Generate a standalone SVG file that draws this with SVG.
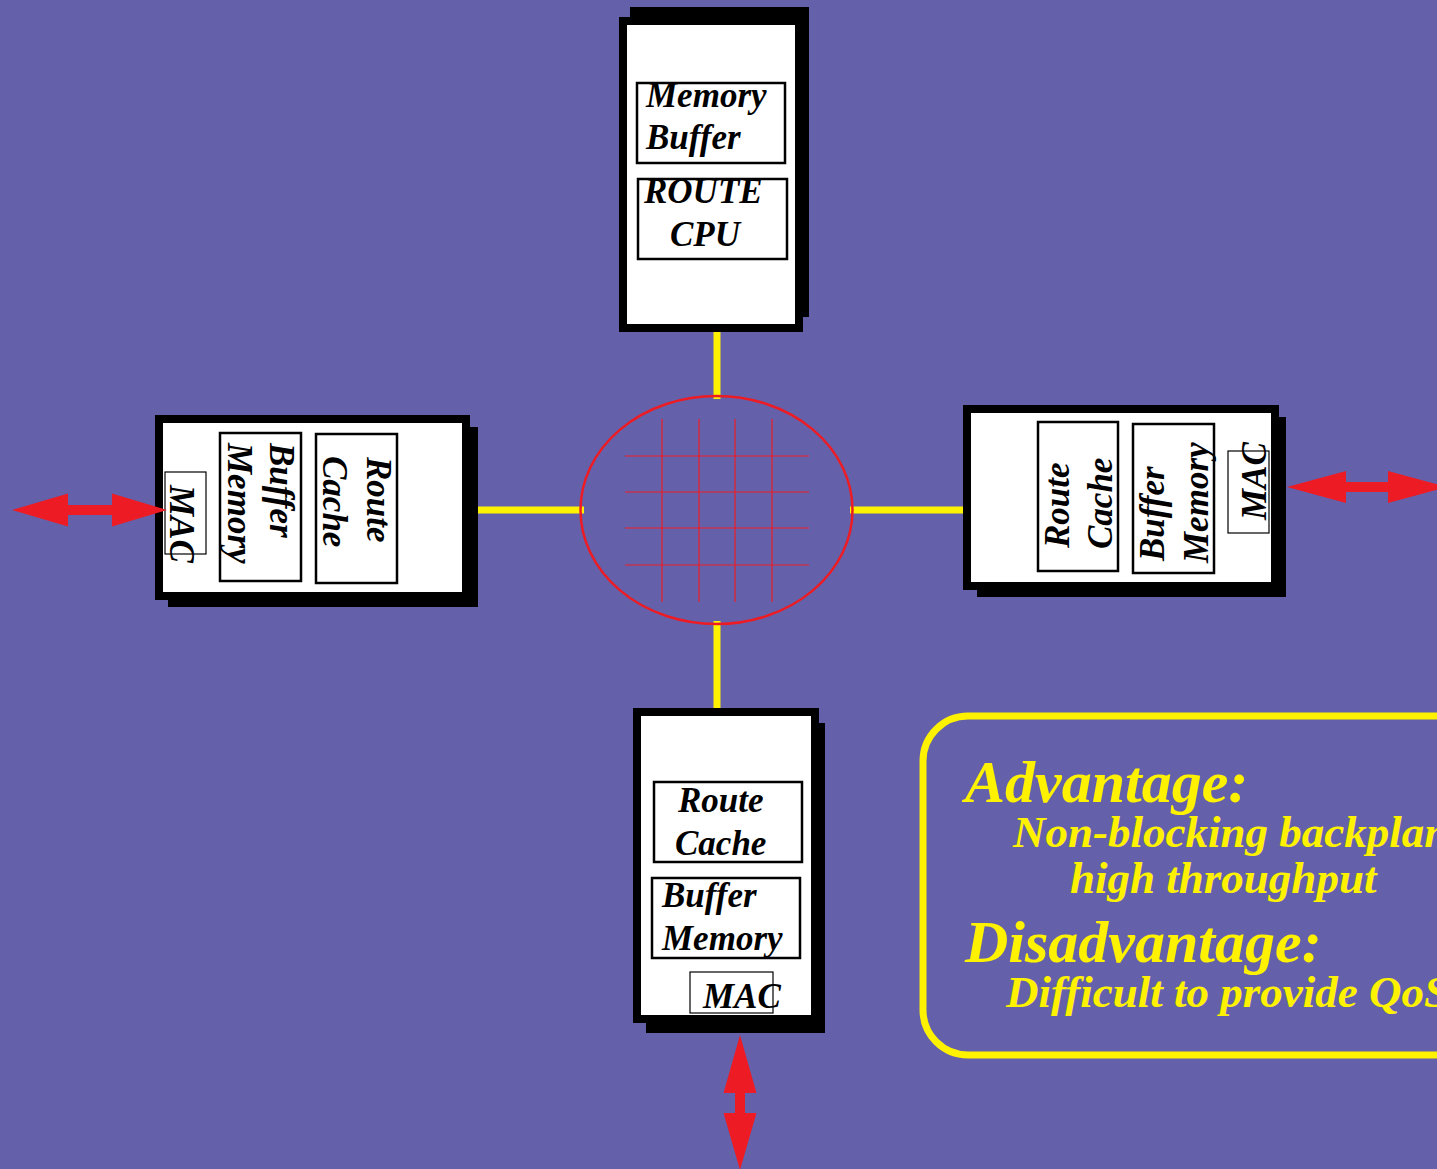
<svg xmlns="http://www.w3.org/2000/svg" width="1437" height="1169" viewBox="0 0 1437 1169">
  <style>
    .shadow { fill: #000; }
    .card { fill: #fff; stroke: #000; stroke-width: 8; }
    .box { fill: #fff; stroke: #000; stroke-width: 2.5; }
    .mac { fill: none; stroke: #000; stroke-width: 1.2; }
    .lbl { font-family: "Liberation Serif", "Times New Roman", serif; font-style: italic; font-weight: bold; font-size: 35px; fill: #000; }
    .link { stroke: #fff200; stroke-width: 7; fill: none; }
    .grid line { stroke: #ed1c24; stroke-width: 1.2; }
    .arrow { fill: #ed1c24; }
    .note { font-family: "Liberation Serif", "Times New Roman", serif; font-style: italic; font-weight: bold; fill: #fff200; }
    .head { font-size: 60px; }
    .body { font-size: 45px; }
  </style>

  <rect width="1437" height="1169" fill="#6461aa"/>

  <!-- links between the line cards and the crossbar -->
  <g id="connectors">
    <line class="link" x1="717" y1="330" x2="717" y2="399"/>
    <line class="link" x1="466" y1="510" x2="584" y2="510"/>
    <line class="link" x1="850" y1="510" x2="968" y2="510"/>
    <line class="link" x1="717" y1="621" x2="717" y2="716"/>
  </g>

  <!-- crossbar switch fabric -->
  <g id="crossbar">
    <ellipse cx="716.5" cy="510" rx="136" ry="114" fill="none" stroke="#ed1c24" stroke-width="2.5"/>
    <g class="grid">
      <line x1="662" y1="419" x2="662" y2="602"/>
      <line x1="699" y1="419" x2="699" y2="602"/>
      <line x1="735" y1="419" x2="735" y2="602"/>
      <line x1="772" y1="419" x2="772" y2="602"/>
      <line x1="625" y1="456" x2="809" y2="456"/>
      <line x1="625" y1="492" x2="809" y2="492"/>
      <line x1="625" y1="528" x2="809" y2="528"/>
      <line x1="625" y1="565" x2="809" y2="565"/>
    </g>
  </g>

  <!-- top card: route processor -->
  <g id="card-top">
    <rect class="shadow" x="630" y="7" width="179" height="310"/>
    <rect class="card" x="623" y="21" width="176" height="307"/>
    <rect class="box" x="637" y="83" width="148" height="80"/>
    <text class="lbl" x="646" y="107">Memory</text>
    <text class="lbl" x="646" y="149">Buffer</text>
    <rect class="box" x="638" y="179" width="149" height="80"/>
    <text class="lbl" x="644" y="203">ROUTE</text>
    <text class="lbl" x="670" y="246">CPU</text>
  </g>

  <!-- left card -->
  <g id="card-left">
    <rect class="shadow" x="168" y="427" width="310" height="180"/>
    <rect class="card" x="159" y="419" width="307" height="177"/>
    <rect class="box" x="220" y="433" width="81" height="148"/>
    <rect class="box" x="316" y="434" width="81" height="149"/>
    <rect class="mac" x="165" y="472" width="41" height="82"/>
    <text class="lbl" transform="translate(367,457) rotate(90)">Route</text>
    <text class="lbl" transform="translate(323,456) rotate(90)">Cache</text>
    <text class="lbl" transform="translate(270,443) rotate(90)">Buffer</text>
    <text class="lbl" transform="translate(228,443) rotate(90)">Memory</text>
    <text class="lbl" transform="translate(170,485) rotate(90)">MAC</text>
  </g>

  <!-- right card -->
  <g id="card-right">
    <rect class="shadow" x="977" y="417" width="309" height="180"/>
    <rect class="card" x="967" y="409" width="308" height="177"/>
    <rect class="box" x="1038" y="422" width="80" height="149"/>
    <rect class="box" x="1133" y="424" width="81" height="149"/>
    <rect class="mac" x="1228" y="451" width="41" height="82"/>
    <text class="lbl" transform="translate(1069,548) rotate(-90)">Route</text>
    <text class="lbl" transform="translate(1112,549) rotate(-90)">Cache</text>
    <text class="lbl" transform="translate(1164,561) rotate(-90)">Buffer</text>
    <text class="lbl" transform="translate(1208,563) rotate(-90)">Memory</text>
    <text class="lbl" transform="translate(1266,520) rotate(-90)">MAC</text>
  </g>

  <!-- bottom card -->
  <g id="card-bottom">
    <rect class="shadow" x="646" y="723" width="179" height="310"/>
    <rect class="card" x="637" y="712" width="178" height="307"/>
    <rect class="box" x="654" y="782" width="148" height="80"/>
    <text class="lbl" x="678" y="812">Route</text>
    <text class="lbl" x="675" y="855">Cache</text>
    <rect class="box" x="652" y="878" width="148" height="80"/>
    <text class="lbl" x="662" y="907">Buffer</text>
    <text class="lbl" x="662" y="950">Memory</text>
    <rect class="mac" x="690" y="972" width="83" height="41"/>
    <text class="lbl" x="703" y="1008">MAC</text>
  </g>

  <!-- external port arrows -->
  <g id="ports">
    <polygon class="arrow" points="12,510 68,493.5 68,505 112,505 112,493.5 167,510 112,526.5 112,515 68,515 68,526.5"/>
    <polygon class="arrow" points="1287,487 1346,471 1346,482 1388,482 1388,471 1447,487 1388,503 1388,492 1346,492 1346,503"/>
    <polygon class="arrow" points="740,1035 756.5,1093 745,1093 745,1113 756.5,1113 740,1170 723.5,1113 735,1113 735,1093 723.5,1093"/>
  </g>

  <!-- summary box -->
  <g id="summary">
    <rect x="923" y="716" width="560" height="339" rx="45" ry="45" fill="none" stroke="#fff200" stroke-width="7"/>
    <text class="note head" x="965" y="802">Advantage:</text>
    <text class="note body" x="1013" y="847">Non-blocking backplane</text>
    <text class="note body" x="1070" y="893">high throughput</text>
    <text class="note head" x="965" y="962">Disadvantage:</text>
    <text class="note body" x="1006" y="1007">Difficult to provide QoS</text>
  </g>
</svg>
